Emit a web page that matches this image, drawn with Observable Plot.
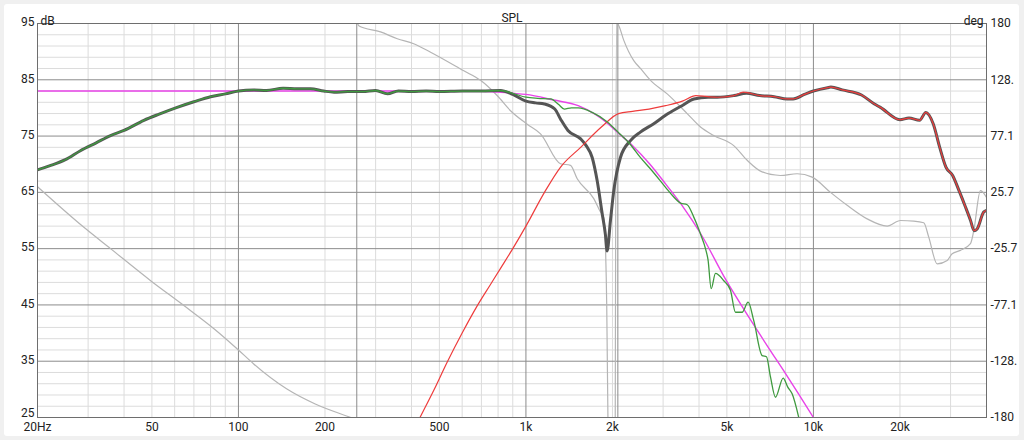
<!DOCTYPE html>
<html>
<head>
<meta charset="utf-8">
<script src="https://cdn.jsdelivr.net/npm/d3@7"></script>
<script src="https://cdn.jsdelivr.net/npm/@observablehq/plot@0.6"></script>
<style>
  html, body { margin: 0; padding: 0; background: #f0f0f0; }
  #panel { position: absolute; left: 4px; top: 4px; width: 1015px; height: 432px; background: #fff; border-radius: 3px; }
  #chart { position: absolute; left: 0; top: 0; }
</style>
</head>
<body>
<div id="panel"></div>
<div id="chart"></div>
<script>
// ---- axis ticks / labels ----
const freqTicks  = [20, 50, 100, 200, 500, 1000, 2000, 5000, 10000, 20000];
const freqLabels = ["20Hz", "50", "100", "200", "500", "1k", "2k", "5k", "10k", "20k"];
const majorFreqGrid = [100, 1000, 10000];
const minorFreqGrid = [30, 40, 50, 60, 70, 80, 90, 200, 300, 400, 500, 600, 700, 800, 900,
  2000, 3000, 4000, 5000, 6000, 7000, 8000, 9000, 20000, 30000];
const dbTicks = [25, 35, 45, 55, 65, 75, 85, 95];
const degLabels = ["-180", "-128.", "-77.1", "-25.7", "25.7", "77.1", "128.", "180"];
const minorDbGrid = [27, 29, 31, 33, 37, 39, 41, 43, 47, 49, 51, 53, 57, 59, 61, 63,
  67, 69, 71, 73, 77, 79, 81, 83, 87, 89, 91, 93];
const phaseWrapFreqs = [258, 2088];

// ---- target (magenta) ----
const targetF  = [20, 500, 700, 800, 900, 1000, 1250, 1520, 1750, 1920, 2100, 2350, 2700, 3060, 3500, 4060, 4980, 6000, 7000, 8000, 9000, 10000];
const targetDb = [83, 83, 82.95, 82.8, 82.6, 82.4, 81.4, 80.4, 78.8, 77.3, 75.5, 73.3, 70.0, 66.5, 62.6, 57.6, 49.3, 42.6, 37.3, 32.8, 28.7, 25];

// ---- woofer (green) ----
const wooferF  = [20, 22, 25, 28.2, 32, 35.9, 40, 46.9, 53, 61.2, 70, 80, 90, 100, 113, 125, 143, 160, 178, 198, 215, 240, 270, 300, 330, 360, 400, 450, 500, 600, 700, 816,
  900, 1000, 1100, 1220, 1300, 1360, 1440, 1520, 1700, 1920, 2100, 2300, 2500, 2750, 3060, 3250, 3449, 3638, 3836, 4048, 4213, 4300, 4409, 4564, 4878, 5146, 5356, 5650, 5929, 6202, 6633, 6866, 7090, 7379, 7848, 8144, 8434, 8892];
const wooferDb = [69.0, 69.7, 70.8, 72.4, 73.8, 75.1, 76.0, 77.8, 78.9, 80.1, 81.1, 82.0, 82.5, 83.0, 83.2, 83.1, 83.5, 83.4, 83.4, 83.0, 82.8, 82.9, 82.9, 83.1, 82.5, 83.0, 82.9, 83.0, 82.9, 83.0, 83.0, 83.1,
  82.6, 81.9, 81.7, 81.6, 80.6, 79.8, 80.0, 80.0, 79.2, 77.5, 75.6, 73.6, 71.2, 68.8, 65.9, 64.3, 63.1, 62.8, 60.6, 57.6, 55.0, 53.0, 47.9, 50.6, 49.3, 47.6, 43.7, 43.7, 45.5, 42.2, 36.0, 35.8, 32.2, 28.6, 32.0, 30.4, 29.2, 25.0];

// ---- tweeter (red) ----
const tweeterF  = [428, 480, 532, 600, 680, 750, 816, 900, 1000, 1160, 1320, 1550, 1830, 2100, 2350, 2680, 3060, 3500, 3900, 4300, 4630, 5300, 5700, 6500, 7300, 8100, 8500, 9300, 10000, 11200, 11500, 12600, 14700, 16300, 17100, 20000, 21500, 23400, 24600, 26100, 27500, 28900, 30500, 32100, 33800, 35200, 36200, 37100, 39100, 40000];
const tweeterDb = [25.0, 30.0, 34.8, 40.0, 45.0, 48.5, 51.5, 55.0, 59.0, 65.0, 69.5, 73.0, 76.6, 79.0, 79.4, 79.8, 80.4, 81.2, 82.2, 82.0, 81.9, 82.2, 82.8, 82.2, 82.0, 81.6, 81.6, 82.4, 83.0, 83.6, 83.7, 83.2, 82.3, 80.7, 80.1, 77.9, 78.2, 77.8, 79.2, 77.2, 73.0, 69.5, 68.0, 65.3, 62.4, 60.0, 58.2, 58.5, 61.5, 61.8];

// ---- summed response (dark gray, thick) ----
const sumF  = [20, 22, 25, 28.2, 32, 35.9, 40, 46.9, 53, 61.2, 70, 80, 90, 100, 113, 125, 143, 160, 178, 198, 215, 240, 270, 300, 330, 360, 400, 450, 500, 600, 700, 816,
  900, 1000, 1080, 1160, 1260, 1320, 1400, 1550, 1620, 1700, 1769, 1842, 1890, 1916, 1968, 2021, 2132, 2310, 2500, 2784, 3060, 3490, 3840, 4300, 4630, 5300, 5850,
  6500, 7300, 8100, 8500, 9300, 10000, 11200, 11500, 12600, 14700, 16300, 17100, 20000, 21500, 23400, 24600, 26100, 27500, 28900, 30500, 32100, 33800, 35200, 36200, 37100, 39100, 40000];
const sumDb = [69.0, 69.7, 70.8, 72.4, 73.8, 75.1, 76.0, 77.8, 78.9, 80.1, 81.1, 82.0, 82.5, 83.0, 83.2, 83.1, 83.5, 83.4, 83.4, 83.0, 82.8, 82.9, 82.9, 83.1, 82.5, 83.0, 82.9, 83.0, 82.9, 83.0, 83.0, 83.1,
  82.4, 81.2, 80.9, 80.7, 79.8, 78.0, 76.0, 74.5, 73.3, 71.2, 67.1, 61.2, 57.5, 54.6, 60.0, 65.3, 71.2, 74.2, 75.7, 77.2, 78.7, 80.4, 81.6, 81.9, 81.9, 82.2, 82.6,
  82.2, 82.0, 81.6, 81.6, 82.4, 83.0, 83.6, 83.7, 83.2, 82.3, 80.7, 80.1, 77.9, 78.2, 77.8, 79.2, 77.2, 73.0, 69.5, 68.0, 65.3, 62.4, 60.0, 58.2, 58.5, 61.5, 61.8];

// ---- phase (gray, degrees, right axis), three wrapped segments ----
const phase1F   = [20, 29, 35.9, 49.5, 64.6, 82.6, 100, 113, 147, 185, 246, 258];
const phase1Deg = [30.9, -6.2, -25.7, -55.0, -77.7, -99.3, -118.3, -131.1, -153.8, -167.7, -180, -182];
const phase2F   = [259, 262, 312, 357, 407, 466, 608, 695, 794, 884, 1010, 1124, 1319, 1429, 1508, 1722, 1817, 1865, 1891, 1910, 1929];
const phase2Deg = [181, 178.0, 172.3, 166.1, 161.5, 153.8, 136.8, 128.1, 114.2, 100.3, 88.0, 79.2, 51.9, 50.4, 38.1, 20.0, 7.7, 2.6, -24.2, -77, -182];
const phase3F   = [2045, 2065, 2104, 2190, 2372, 2503, 2712, 3100, 3638, 4048, 4500, 5282, 5883, 6600, 7678, 8778, 9900, 11466, 13102, 15380, 18050, 20078, 22340, 24200, 25200, 26940, 29200, 30380, 32460, 35180, 36120, 38100, 40000];
const phase3Deg = [-182, 181, 178, 164.6, 146.1, 138.9, 128.1, 115.7, 97.7, 85.4, 77.7, 68.4, 55.0, 44.7, 41.1, 42.7, 39.6, 25.7, 13.9, 1.5, -5.1, 0, -0.5, -2.1, -15.4, -39.6, -36.5, -30.3, -27.3, -21.1, -9.3, 27.3, 21.1];

// right axis relation: 25 dB <-> -180 deg, 95 dB <-> +180 deg
const degToDb = d => 60 + d * 70 / 360;

const pts = (fs, vs) => fs.map((f, i) => ({f, v: vs[i]}));
const phaseRows = [
  ...pts(phase1F, phase1Deg).map(d => ({...d, seg: 1})),
  ...pts(phase2F, phase2Deg).map(d => ({...d, seg: 2})),
  ...pts(phase3F, phase3Deg).map(d => ({...d, seg: 3}))
].map(d => ({...d, y: degToDb(d.v)}));
const xTickRows = freqTicks.map((f, i) => ({f, label: freqLabels[i]}));
const bottomDb = dbTicks.slice(0, 1);
const upperDb = dbTicks.slice(1);

const font = "Roboto, 'Noto Sans', sans-serif";

const chart = Plot.plot({
  width: 1024,
  height: 440,
  marginLeft: 37,
  marginRight: 38,
  marginTop: 23,
  marginBottom: 23,
  style: {background: "transparent", fontFamily: font, fontSize: "12px", color: "#222"},
  x: {type: "log", domain: [20, 40000], axis: null},
  y: {domain: [25, 95], axis: null},
  marks: [
    Plot.ruleX(minorFreqGrid, {stroke: "#dcdcdc", strokeWidth: 1}),
    Plot.ruleY(minorDbGrid, {stroke: "#dcdcdc", strokeWidth: 1}),
    Plot.ruleX(majorFreqGrid, {stroke: "#8c8c8c", strokeWidth: 1}),
    Plot.ruleY(dbTicks, {stroke: "#8c8c8c", strokeWidth: 1}),
    Plot.ruleX(phaseWrapFreqs, {stroke: "#8c8c8c", strokeWidth: 1}),
    Plot.line(phaseRows, {x: "f", y: "y", z: "seg", stroke: "#b5b5b5", strokeWidth: 1.2, curve: "monotone-x", clip: true}),
    Plot.line(pts(targetF, targetDb), {x: "f", y: "v", stroke: "#e843e8", strokeWidth: 1.4, curve: "monotone-x", clip: true}),
    Plot.line(pts(sumF, sumDb), {x: "f", y: "v", stroke: "#555", strokeWidth: 3, curve: "monotone-x", clip: true}),
    Plot.line(pts(tweeterF, tweeterDb), {x: "f", y: "v", stroke: "#ee3c3c", strokeWidth: 1.2, curve: "monotone-x", clip: true}),
    Plot.line(pts(wooferF, wooferDb), {x: "f", y: "v", stroke: "#3f9a3f", strokeWidth: 1.3, curve: "monotone-x", clip: true}),
    Plot.frame({stroke: "#6e6e6e"}),
    Plot.text(xTickRows, {x: "f", frameAnchor: "bottom", dy: 13, text: "label", fontSize: 12, fill: "#222"}),
    Plot.axisY(upperDb, {anchor: "left", tickSize: 0, tickPadding: 3, fontSize: 12, dy: -1, label: null}),
    Plot.axisY(bottomDb, {anchor: "left", tickSize: 0, tickPadding: 3, fontSize: 12, dy: -4, label: null}),
    Plot.axisY(dbTicks, {anchor: "right", tickSize: 0, tickPadding: 4, tickFormat: (d, i) => degLabels[i], fontSize: 12, label: null}),
    Plot.text(["SPL"], {frameAnchor: "top", dy: -10, text: d => d, fontSize: 12, fill: "#222"}),
    Plot.text(["dB"], {frameAnchor: "top-left", dx: 3, dy: -7, text: d => d, textAnchor: "start", fontSize: 12, fill: "#222"}),
    Plot.text(["deg"], {frameAnchor: "top-right", dx: -3, dy: -7, text: d => d, textAnchor: "end", fontSize: 12, fill: "#222"})
  ]
});
document.getElementById("chart").appendChild(chart);
</script>
</body>
</html>
